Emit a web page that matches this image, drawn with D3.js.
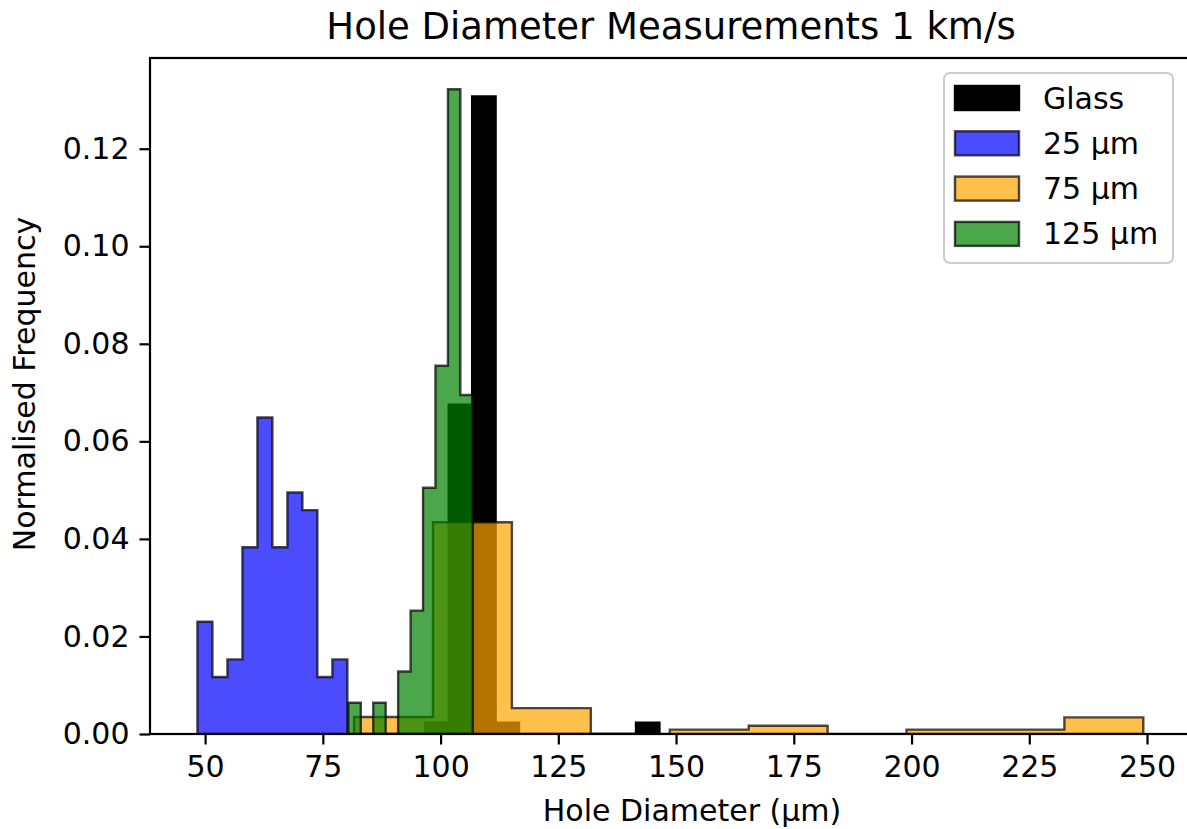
<!DOCTYPE html>
<html>
<head>
<meta charset="utf-8">
<script src="https://cdn.jsdelivr.net/npm/d3@7"></script>
<style>
  body { margin: 0; background: #fff; }
  svg { display: block; }
  text { font-family: "DejaVu Sans", sans-serif; fill: #000; }
</style>
</head>
<body>
<svg id="chart" width="1187" height="829"></svg>
<script>
// Normalised histograms (density) of hole diameters, one array per sample set
const seriesNames = ["Glass", "25 µm", "75 µm", "125 µm"];
const seriesColors = ["#000000", "blue", "orange", "green"];

const glassStart = 96.77, glassWidth = 4.97;
const glassValues = [0.0023, 0.0675, 0.1307, 0.0023, 0, 0, 0, 0, 0, 0.0023];

const blueStart = 48.37, blueWidth = 3.184;
const blueValues = [0.0230, 0.0117, 0.0153, 0.0383, 0.0649, 0.0383, 0.0495, 0.0459, 0.0117, 0.0153];

const orangeStart = 81.63, orangeWidth = 8.379;
const orangeValues = [0.0035, 0.0035, 0.0434, 0.0434, 0.0053, 0.0053, 0, 0, 0.0009, 0.0009,
                      0.0017, 0.0017, 0, 0, 0.0009, 0.0009, 0.0009, 0.0009, 0.0034, 0.0034];

const greenStart = 80.42, greenWidth = 2.642;
const greenValues = [0.0064, 0, 0.0064, 0, 0.0128, 0.0253, 0.0505, 0.0755, 0.1322, 0.0695];

const xTicks = [50, 75, 100, 125, 150, 175, 200, 225, 250];
const yTicks = [0, 0.02, 0.04, 0.06, 0.08, 0.10, 0.12];

const titleText = "Hole Diameter Measurements 1 km/s";
const xLabel = "Hole Diameter (µm)";
const yLabel = "Normalised Frequency";

const svg = d3.select("#chart");
const plot = { left: 150, right: 1192.7, top: 58, bottom: 734 };

const x = d3.scaleLinear().domain([38.3, 259.7]).range([plot.left, plot.right]);
const y = d3.scaleLinear().domain([0, 0.1386]).range([plot.bottom, plot.top]);

// Outline of a step-filled histogram: up the first edge, across each bin, down the last edge
function stepPoints(start, width, values) {
  const pts = [[start, 0]];
  values.forEach((v, i) => {
    pts.push([start + i * width, v]);
    pts.push([start + (i + 1) * width, v]);
  });
  pts.push([start + values.length * width, 0]);
  return pts;
}

const line = d3.line().x(d => x(d[0])).y(d => y(d[1])).curve(d3.curveLinear);

const series = [
  { start: glassStart, width: glassWidth, values: glassValues, color: seriesColors[0], alpha: 1 },
  { start: blueStart, width: blueWidth, values: blueValues, color: seriesColors[1], alpha: 0.7 },
  { start: orangeStart, width: orangeWidth, values: orangeValues, color: seriesColors[2], alpha: 0.7 },
  { start: greenStart, width: greenWidth, values: greenValues, color: seriesColors[3], alpha: 0.7 }
];

const defs = svg.append("defs");
defs.append("clipPath").attr("id", "plotClip")
  .append("rect").attr("x", plot.left).attr("y", plot.top)
  .attr("width", plot.right - plot.left).attr("height", plot.bottom - plot.top);

const gHist = svg.append("g").attr("clip-path", "url(#plotClip)");
series.forEach(s => {
  gHist.append("path")
    .attr("d", line(stepPoints(s.start, s.width, s.values)) + "Z")
    .attr("fill", s.color)
    .attr("fill-opacity", s.alpha)
    .attr("stroke", "#000")
    .attr("stroke-opacity", s.alpha)
    .attr("stroke-width", 2.4)
    .attr("stroke-linejoin", "miter");
});

// Axes
const xAxis = d3.axisBottom(x).tickValues(xTicks).tickFormat(d3.format("d")).tickSizeInner(10.5).tickSizeOuter(0).tickPadding(10);
const yAxis = d3.axisLeft(y).tickValues(yTicks).tickFormat(d3.format(".2f")).tickSizeInner(10.5).tickSizeOuter(0).tickPadding(10);

const gx = svg.append("g").attr("transform", `translate(0,${plot.bottom})`).call(xAxis);
const gy = svg.append("g").attr("transform", `translate(${plot.left},0)`).call(yAxis);
[gx, gy].forEach(g => {
  g.select(".domain").remove();
  g.selectAll(".tick line").attr("stroke", "#000").attr("stroke-width", 2.2);
  g.selectAll(".tick text").style("font-size", "30px").attr("fill", "#000");
});
gx.selectAll(".tick text").attr("dy", "0.76em");

// Frame
svg.append("rect")
  .attr("x", plot.left).attr("y", plot.top)
  .attr("width", plot.right - plot.left).attr("height", plot.bottom - plot.top)
  .attr("fill", "none").attr("stroke", "#000").attr("stroke-width", 2.2);

// Title and axis labels
svg.append("text").attr("x", 671).attr("y", 39).attr("text-anchor", "middle")
  .style("font-size", "37px").text(titleText);
svg.append("text").attr("x", 692).attr("y", 821).attr("text-anchor", "middle")
  .style("font-size", "30px").text(xLabel);
svg.append("text").attr("transform", "translate(35,384) rotate(-90)").attr("text-anchor", "middle")
  .style("font-size", "30px").text(yLabel);

// Legend
const legend = svg.append("g");
legend.append("rect").attr("x", 944).attr("y", 73).attr("width", 229).attr("height", 190)
  .attr("rx", 6).attr("fill", "#fff").attr("fill-opacity", 0.8)
  .attr("stroke", "#cccccc").attr("stroke-width", 2);
seriesNames.forEach((name, i) => {
  const cy = 98 + i * 45.3;
  legend.append("rect").attr("x", 955).attr("y", cy - 12).attr("width", 64).attr("height", 24)
    .attr("fill", series[i].color).attr("fill-opacity", series[i].alpha)
    .attr("stroke", "#000").attr("stroke-opacity", series[i].alpha).attr("stroke-width", 2.4);
  legend.append("text").attr("x", 1043).attr("y", cy + 10.5)
    .style("font-size", "30px").text(name);
});
</script>
</body>
</html>
